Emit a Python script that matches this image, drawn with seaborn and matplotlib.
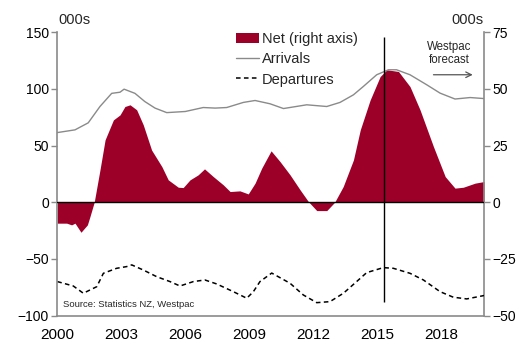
import matplotlib
matplotlib.use("Agg")
import matplotlib.pyplot as plt
import seaborn as sns
import pandas as pd
from matplotlib.patches import Patch
from matplotlib.lines import Line2D

# ---- data (000s) ----
arr_year = [2000.0, 2000.83, 2001.45, 2002.0, 2002.55, 2002.94, 2003.13, 2003.64, 2004.1, 2004.58,
            2005.13, 2006.0, 2006.84, 2007.4, 2007.94, 2008.72, 2009.27, 2009.97, 2010.6, 2011.69,
            2012.63, 2013.25, 2013.88, 2014.34, 2014.97, 2015.52, 2015.9, 2016.53, 2017.32, 2017.94,
            2018.64, 2019.35, 2020.0]
arrivals = [61.4, 63.8, 70, 84.4, 96, 97, 99.7, 96, 88.8, 83,
            79, 80, 83.5, 83, 83.5, 88, 89.7, 86.8, 82.6, 85.9,
            84.4, 88, 94.7, 102, 112.4, 116.8, 116.8, 112.4, 103.5, 96.2,
            91, 92.3, 91.4]

dep_year = [2000.0, 2000.75, 2001.22, 2001.85, 2002.16, 2002.78, 2003.25, 2003.49, 2004.03, 2004.66,
            2005.28, 2005.75, 2006.38, 2006.92, 2007.47, 2008.25, 2008.88, 2009.19, 2009.5, 2010.05,
            2010.91, 2011.53, 2012.16, 2012.78, 2013.41, 2014.03, 2014.5, 2015.28, 2015.75, 2016.53,
            2017.16, 2017.94, 2018.56, 2019.19, 2019.9, 2020.0]
departures = [-70, -73.9, -80.3, -74.5, -62.7, -58.3, -56.8, -55.3, -59.8, -65.7,
              -70, -73.9, -70, -68.6, -72.1, -78.9, -84.7, -78.9, -70, -62.5,
              -71.5, -81.8, -88.6, -87.7, -80.3, -70, -62.1, -57.7, -58.3, -62.7,
              -68.6, -78.9, -83.8, -85.3, -82.7, -82.3]

net_year = [2000.0, 2000.44, 2000.67, 2000.83, 2001.11, 2001.41, 2001.53, 2001.73, 2002.0, 2002.24,
            2002.63, 2002.94, 2003.17, 2003.41, 2003.72, 2004.03, 2004.42, 2004.9, 2005.2, 2005.67,
            2005.9, 2006.22, 2006.6, 2006.9, 2007.31, 2007.78, 2008.1, 2008.56, 2008.95, 2009.27,
            2009.58, 2010.02, 2010.44, 2010.91, 2011.38, 2011.77, 2012.16, 2012.63, 2013.0, 2013.4,
            2013.88, 2014.2, 2014.66, 2015.13, 2015.44, 2015.99, 2016.53, 2017.0, 2017.63, 2018.18,
            2018.64, 2019.03, 2019.58, 2020.0]
net_left_units = [-18.5, -18.5, -20, -18.5, -26.5, -20, -12.7, 0, 28.5, 55,
                  72.6, 77, 84.4, 85.9, 81.5, 68.2, 46, 31.4, 19.7, 13.2,
                  12.9, 19.7, 24.1, 29.4, 22.6, 15.3, 9.4, 10, 7.3, 16.8,
                  30, 45.3, 35.8, 24.1, 10.9, 0.5, -7.4, -7.4, 0, 13.8,
                  37.3, 63.8, 90, 110.8, 116.8, 115.3, 102, 81.5, 49, 22.6,
                  12.4, 13.2, 16.8, 18.2]
net = [v / 2 for v in net_left_units]  # right-axis units

forecast_start = 2015.3
x_ticks = [2000, 2003, 2006, 2009, 2012, 2015, 2018]
left_ticks = [-100, -50, 0, 50, 100, 150]
right_ticks = [-50, -25, 0, 25, 50, 75]

arr_df = pd.DataFrame({"year": arr_year, "value": arrivals})
dep_df = pd.DataFrame({"year": dep_year, "value": departures})
net_df = pd.DataFrame({"year": net_year, "value": net})

# ---- style ----
sns.set_style("white")
plt.rcParams["font.family"] = ["Liberation Sans", "DejaVu Sans"]

RED = "#9c0029"
GREY = "#8a8a8a"
DASH = (0, (3, 2.2))

fig = plt.figure(figsize=(5.18, 3.53), dpi=100)
ax = fig.add_axes([0.1106, 0.106, 0.8238, 0.803])
ax2 = ax.twinx()

# net on right axis (underneath)
sns.lineplot(data=net_df, x="year", y="value", ax=ax2, color=RED, linewidth=0, legend=False)
ax2.fill_between(net_df["year"], 0, net_df["value"], color=RED, linewidth=0, zorder=1)

ax.set_zorder(ax2.get_zorder() + 1)
ax.patch.set_visible(False)

sns.lineplot(data=arr_df, x="year", y="value", ax=ax, color=GREY, linewidth=1.0, legend=False)
sns.lineplot(data=dep_df, x="year", y="value", ax=ax, color="black", linewidth=1.1,
             linestyle=DASH, legend=False)

ax.axhline(0, color="black", linewidth=1.0, zorder=3)
ax.vlines(forecast_start, -88, 146, color="black", linewidth=1.0, zorder=4)

ax.set_xlim(2000, 2020)
ax.set_ylim(-100, 150)
ax2.set_ylim(-50, 75)
ax.set_xticks(x_ticks)
ax.set_xticks(range(2000, 2021), minor=True)
ax.set_yticks(left_ticks)
ax2.set_yticks(right_ticks)
for a in (ax, ax2):
    a.set_xlabel("")
    a.set_ylabel("")

for a in (ax, ax2):
    a.spines["top"].set_visible(False)
    for s in ("left", "right", "bottom"):
        a.spines[s].set_color(GREY)
        a.spines[s].set_linewidth(1.2)
    a.tick_params(axis="both", which="both", direction="out", color=GREY, width=1.0,
                  length=4, labelsize=10, pad=2, labelcolor="black")
ax.tick_params(axis="x", which="both", length=4, color=GREY)
ax.tick_params(axis="x", which="major", pad=5, labelsize=11)
ax.spines["right"].set_visible(False)
ax2.spines["left"].set_visible(False)
ax2.spines["bottom"].set_visible(False)

# unit labels
fig.text(0.112, 0.9425, "000s", fontsize=10.5, ha="left", va="center")
fig.text(0.934, 0.9425, "000s", fontsize=10.5, ha="right", va="center")

# forecast annotation
ax.text(2018.35, 131, "Westpac\nforecast", fontsize=8.3, ha="center", va="center", linespacing=1.1)
ax.annotate("", xy=(2019.6, 112.4), xytext=(2017.5, 112.4),
            arrowprops=dict(arrowstyle="->", color="#555555", lw=0.9))

ax.text(2000.25, -90, "Source: Statistics NZ, Westpac", fontsize=6.8, ha="left", va="center")

# legend
handles = [Patch(facecolor=RED, edgecolor="none"),
           Line2D([0], [0], color=GREY, lw=1.0),
           Line2D([0], [0], color="black", lw=1.1, linestyle=DASH)]
labels = ["Net (right axis)", "Arrivals", "Departures"]
ax.legend(handles, labels, loc="upper left", bbox_to_anchor=(0.405, 1.02), frameon=False,
          fontsize=10.5, handlelength=1.6, handletextpad=0.2, labelspacing=0.42,
          borderaxespad=0)

fig.savefig("out.png", dpi=100)
